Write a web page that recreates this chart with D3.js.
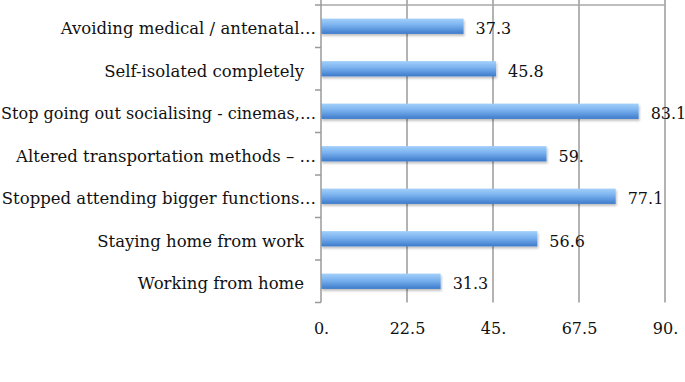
<!DOCTYPE html>
<html><head><meta charset="utf-8">
<script src="https://cdn.jsdelivr.net/npm/d3@7"></script>
<style>body{margin:0;background:#fff}svg{display:block}</style>
</head><body>
<script>
const categories = ["Avoiding medical / antenatal…","Self-isolated completely","Stop going out socialising - cinemas,…","Altered transportation  methods – …","Stopped attending bigger functions…","Staying home from work","Working from home"];
const values = [37.3, 45.8, 83.1, 59.0, 77.1, 56.6, 31.3];
const valueLabels = ["37.3","45.8","83.1","59.","77.1","56.6","31.3"];
const tickValues = [0, 22.5, 45, 67.5, 90];
const tickLabels = ["0.","22.5","45.","67.5","90."];

const W=685,H=382;
const svg=d3.select("body").append("svg").attr("width",W).attr("height",H);
const font="'DejaVu Serif', serif";
const fs=16;
const x=d3.scaleLinear().domain([0,90]).range([321,665]);
const y=d3.scaleBand().domain(categories).range([5,302.5]).paddingInner(0.64).paddingOuter(0.32);
const defs=svg.append("defs");
const g=defs.append("linearGradient").attr("id","bg").attr("x1",0).attr("y1",0).attr("x2",0).attr("y2",1);
g.append("stop").attr("offset","0%").attr("stop-color","#a3d0fa");
g.append("stop").attr("offset","45%").attr("stop-color","#78b0ee");
g.append("stop").attr("offset","100%").attr("stop-color","#3c7acb");
const f=defs.append("filter").attr("id","sh").attr("x","-5%").attr("y","-30%").attr("width","110%").attr("height","180%");
f.append("feDropShadow").attr("dx",1).attr("dy",2).attr("stdDeviation",1.2).attr("flood-color","#000").attr("flood-opacity",0.25);

// gridlines
svg.append("g").selectAll("line").data(tickValues.slice(1)).join("line")
 .attr("x1",d=>x(d)).attr("x2",d=>x(d)).attr("y1",0).attr("y2",302.5)
 .attr("stroke","#9a9a9a").attr("stroke-width",1.5);
svg.append("line").attr("x1",x(0)).attr("x2",x(90)).attr("y1",5).attr("y2",5).attr("stroke","#a8a8a8").attr("stroke-width",1.5);

// bars
svg.append("g").selectAll("rect").data(values).join("rect")
 .attr("x",x(0)).attr("y",(d,i)=>y(categories[i])).attr("width",d=>x(d)-x(0)).attr("height",y.bandwidth())
 .attr("fill","url(#bg)").attr("filter","url(#sh)");

// left axis
const bounds=d3.range(categories.length+1).map(i=>5+i*(297.5/categories.length));
svg.append("line").attr("x1",x(0)).attr("x2",x(0)).attr("y1",0).attr("y2",302.5).attr("stroke","#9a9a9a").attr("stroke-width",1.5);
svg.append("g").selectAll("line").data(bounds).join("line")
 .attr("x1",x(0)-6).attr("x2",x(0)).attr("y1",d=>d).attr("y2",d=>d).attr("stroke","#9a9a9a").attr("stroke-width",1.5);

// category labels
const anchorX=[316,304,316,316,316,304,304];
svg.append("g").selectAll("text").data(categories).join("text")
 .attr("x",(d,i)=>anchorX[i]).attr("y",d=>y(d)+y.bandwidth()/2+8)
 .attr("text-anchor","end").attr("font-family",font).attr("font-size",16.5).attr("fill","#111").text(d=>d)
 .each(function(d,i){
   const w=this.getComputedTextLength();
   if(w>anchorX[i]-1){ d3.select(this).attr("textLength",anchorX[i]-1).attr("lengthAdjust","spacingAndGlyphs"); }
 });

// value labels
svg.append("g").selectAll("text").data(values).join("text")
 .attr("x",d=>x(d)+12).attr("y",(d,i)=>y(categories[i])+y.bandwidth()/2+8)
 .attr("font-family",font).attr("font-size",fs).attr("fill","#111").text((d,i)=>valueLabels[i]);

// x tick labels
const xAxis=d3.axisBottom(x).tickValues(tickValues).tickSize(0).tickFormat((d,i)=>tickLabels[i]);
const xa=svg.append("g").attr("transform","translate(0,334)").call(xAxis);
xa.select(".domain").remove();
xa.selectAll("text").attr("font-family",font).attr("font-size",fs).attr("fill","#111").attr("y",0).attr("dy",0);
</script>
</body></html>
